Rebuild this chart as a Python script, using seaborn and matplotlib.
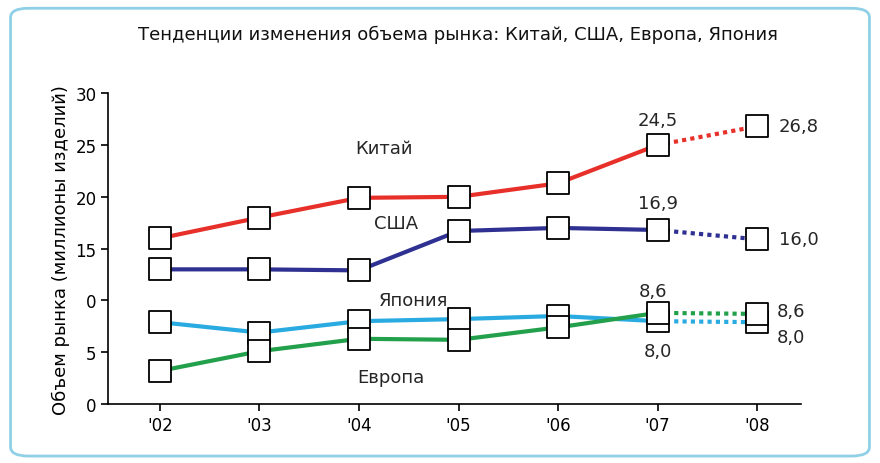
import matplotlib.pyplot as plt
import seaborn as sns
import pandas as pd
from matplotlib.patches import FancyBboxPatch

years = ["'02", "'03", "'04", "'05", "'06", "'07", "'08"]
china = [16.0, 18.0, 19.9, 20.0, 21.3, 25.0, 26.8]
usa = [13.0, 13.0, 12.9, 16.7, 17.0, 16.8, 15.9]
japan = [7.9, 6.9, 8.0, 8.2, 8.5, 8.0, 7.9]
europe = [3.2, 5.1, 6.3, 6.2, 7.4, 8.8, 8.7]
y_ticks = [0, 5, 10, 15, 20, 25, 30]
y_tick_labels = ["0", "5", "0", "15", "20", "25", "30"]

series = {"Китай": (china, "#e8302a"), "США": (usa, "#2e3192"),
          "Япония": (japan, "#29abe2"), "Европа": (europe, "#22a04b")}

sns.set_theme(style="white", font="DejaVu Sans")
fig = plt.figure(figsize=(8.8, 4.64), dpi=100)
fig.patches.append(FancyBboxPatch((0.012, 0.015), 0.976, 0.965, boxstyle="round,pad=0,rounding_size=0.02",
                                  transform=fig.transFigure, fill=False, ec="#8fd0e6", lw=2))
ax = fig.add_axes([0.123, 0.127, 0.787, 0.67])

rows = []
for name, (vals, c) in series.items():
    for i, v in enumerate(vals):
        rows.append({"series": name, "x": i, "y": v})
df = pd.DataFrame(rows)

for name, (vals, c) in series.items():
    d = df[df.series == name]
    sns.lineplot(data=d[d.x <= 5], x="x", y="y", color=c, lw=3, ax=ax)
    sns.lineplot(data=d[d.x >= 5], x="x", y="y", color=c, lw=3, ls=(0, (1, 1)), ax=ax)
for name, (vals, c) in series.items():
    sns.scatterplot(data=df[df.series == name], x="x", y="y", marker="s", s=260,
                    facecolor="white", edgecolor="black", linewidth=1.3, zorder=5, ax=ax)

ax.set_xlim(-0.52, 6.44)
ax.set_ylim(0, 30)
ax.set_xticks(range(len(years)))
ax.set_xticklabels(years, fontsize=12, color="black")
ax.set_yticks(y_ticks)
ax.set_yticklabels(y_tick_labels, fontsize=12, color="black")
ax.tick_params(axis="both", direction="out", length=5, width=1.2, color="black", left=True, bottom=True)
for s in ["top", "right"]:
    ax.spines[s].set_visible(False)
for s in ["left", "bottom"]:
    ax.spines[s].set_color("black")
    ax.spines[s].set_linewidth(1.2)
ax.set_xlabel("")
ax.set_ylabel("Объем рынка (миллионы изделий)", fontsize=13, color="black")

fs = 13
kw = dict(fontsize=fs, va="center", clip_on=False)
ax.text(2.25, 24.7, "Китай", ha="center", **kw)
ax.text(2.37, 17.5, "США", ha="center", **kw)
ax.text(2.55, 10.0, "Япония", ha="center", **kw)
ax.text(2.32, 2.6, "Европа", ha="center", **kw)
ax.text(5.0, 27.4, "24,5", ha="center", **kw)
ax.text(6.22, 26.8, "26,8", ha="left", **kw)
ax.text(5.0, 19.4, "16,9", ha="center", **kw)
ax.text(6.22, 15.9, "16,0", ha="left", **kw)
ax.text(4.95, 10.9, "8,6", ha="center", **kw)
ax.text(5.0, 5.1, "8,0", ha="center", **kw)
ax.text(6.2, 9.0, "8,6", ha="left", **kw)
ax.text(6.2, 6.5, "8,0", ha="left", **kw)

fig.text(0.52, 0.925, "Тенденции изменения объема рынка: Китай, США, Европа, Япония",
         fontsize=13, ha="center", va="center", color="#111111", fontweight="medium")
fig.savefig("out.png", dpi=100)
